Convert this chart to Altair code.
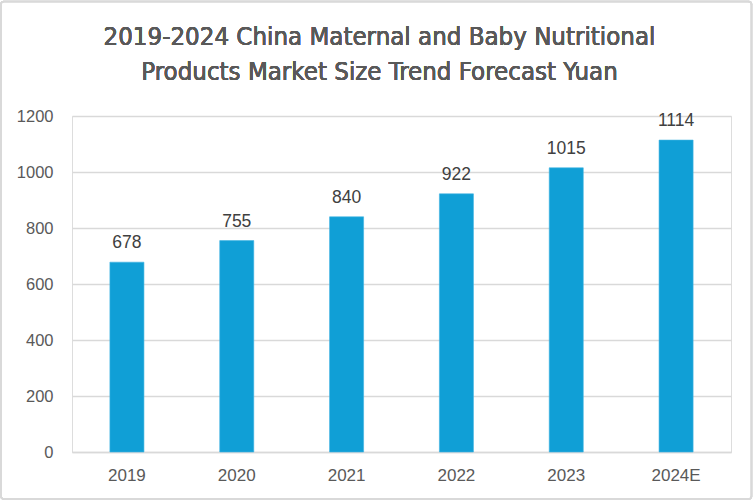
import altair as alt
import pandas as pd

years = ["2019", "2020", "2021", "2022", "2023", "2024E"]
values = [678, 755, 840, 922, 1015, 1114]
title_lines = ["2019-2024 China Maternal and Baby Nutritional",
               "Products Market Size Trend Forecast Yuan"]

df = pd.DataFrame({"year": years, "value": values})

W, H = 659, 336
PL, PT, PR, PB = 72, 116, 22, 49

base = alt.Chart(df).encode(
    x=alt.X("year:N", sort=years, title=None,
            scale=alt.Scale(paddingInner=0.69, paddingOuter=0.345),
            axis=alt.Axis(labelAngle=0, labelFont="Liberation Sans", labelFontSize=17,
                          labelColor="#595959", labelPadding=15, ticks=False,
                          domain=True, domainColor="#D9D9D9", domainWidth=1.3, grid=False)),
    y=alt.Y("value:Q", title=None,
            scale=alt.Scale(domain=[0, 1200], nice=False),
            axis=alt.Axis(values=[0, 200, 400, 600, 800, 1000, 1200], format="d",
                          labelFont="Liberation Sans",
                          labelFontSize=16.5, labelColor="#595959", labelPadding=19,
                          ticks=False, domain=False, grid=True, gridColor="#D9D9D9",
                          gridWidth=1.3)),
)

bars = base.mark_bar(color="#109FD6", stroke="#3FB3E3", strokeWidth=0.6)
labels = base.mark_text(baseline="alphabetic", dy=-14, font="Liberation Sans",
                        fontSize=17.5, color="#404040").encode(text="value:Q")

border = alt.Chart(df).mark_rect(fill=None, stroke="#D9D9D9", strokeWidth=1.5, clip=False,
                                 cornerRadius=3).encode(
    x=alt.value(-PL + 1), x2=alt.value(W + PR - 1.5),
    y=alt.value(-PT + 1.5), y2=alt.value(H + PB - 2),
)

title = alt.Chart(df).mark_text(
    text=title_lines, font="DejaVu Sans Condensed, DejaVu Sans", fontSize=25.6, color="#595959",
    align="center", baseline="middle", lineHeight=34.5, clip=False,
).encode(x=alt.value(W / 2 - 22), y=alt.value(-79))

chart = alt.layer(border, title, bars, labels).properties(
    width=W, height=H,
    padding={"left": PL, "top": PT, "right": PR, "bottom": PB},
    autosize=alt.AutoSizeParams(type="none"),
).configure_view(stroke=None).configure(background="white")

chart.save("out.html", embed_options={"renderer": "svg", "actions": False})
